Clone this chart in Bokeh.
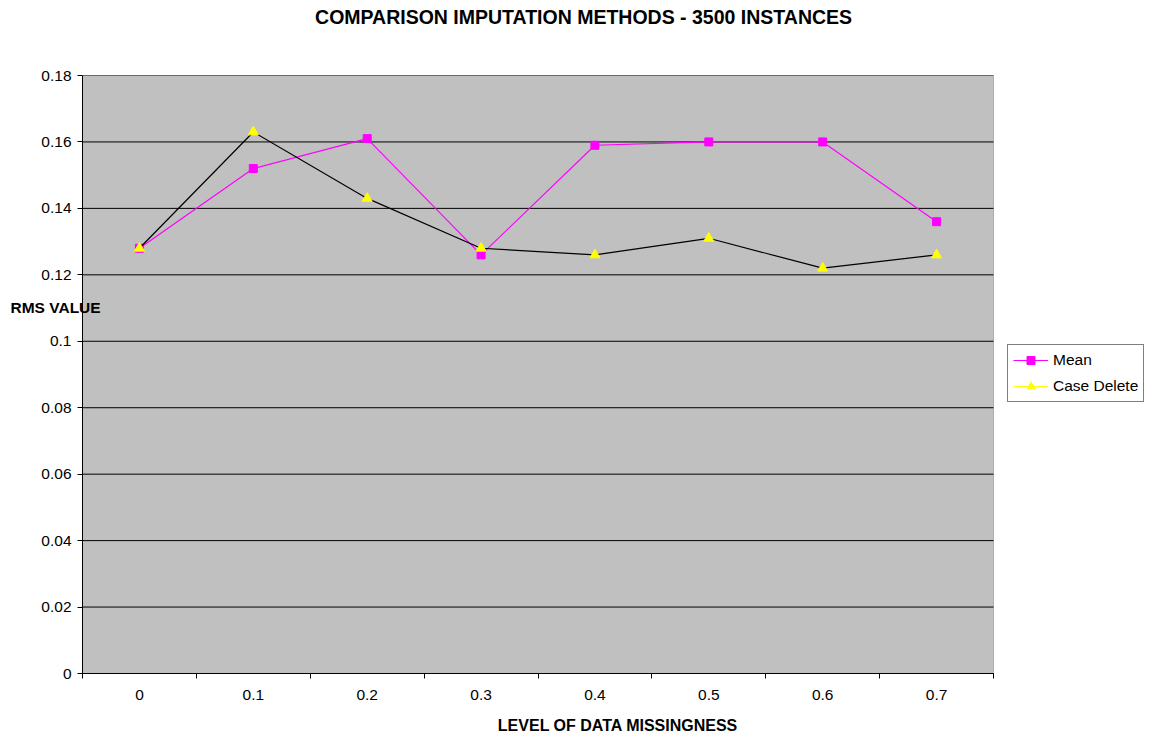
from bokeh.plotting import figure
from bokeh.models import (ColumnDataSource, FixedTicker, Label, Legend, LegendItem, Range1d,
                          BoxAnnotation, CDSView, IndexFilter)
from bokeh.embed import file_html
from bokeh.resources import INLINE

categories = ["0", "0.1", "0.2", "0.3", "0.4", "0.5", "0.6", "0.7"]
mean_vals = [0.128, 0.152, 0.161, 0.126, 0.159, 0.160, 0.160, 0.136]
case_delete_vals = [0.128, 0.163, 0.143, 0.128, 0.126, 0.131, 0.122, 0.126]
y_ticks = [0, 0.02, 0.04, 0.06, 0.08, 0.1, 0.12, 0.14, 0.16, 0.18]
y_tick_labels = ["0", "0.02", "0.04", "0.06", "0.08", "0.1", "0.12", "0.14", "0.16", "0.18"]

FONT = "Liberation Sans"
TICK_SIZE = "15.5px"
n = len(categories)
xs = list(range(n))
x_lo, x_hi = -0.5, n - 0.5
y_lo, y_hi = y_ticks[0], y_ticks[-1]
src = ColumnDataSource(dict(x=xs, mean=mean_vals, cd=case_delete_vals))
grid_src = ColumnDataSource(dict(x0=[x_lo] * len(y_ticks), x1=[x_hi] * len(y_ticks),
                                 y=y_ticks))

# the frame reaches the right edge of the canvas so the legend can sit inside it;
# the grey plot area covers only the category span
W, H, LEFT = 1153, 738, 82
PLOT_W = 911
x_end = x_lo + n * (W - LEFT) / PLOT_W

p = figure(width=W, height=H, output_backend="svg", toolbar_location=None,
           x_range=Range1d(x_lo, x_end), y_range=Range1d(y_lo, y_hi),
           min_border_left=LEFT, min_border_right=0, min_border_top=75, min_border_bottom=65)
p.border_fill_color = "white"
p.background_fill_color = "white"
p.outline_line_color = None
p.title.text = ""

p.add_layout(BoxAnnotation(left=x_lo, right=x_hi, bottom=y_lo, top=y_hi,
                           fill_color="#C0C0C0", fill_alpha=1,
                           line_color="#404040", line_width=1, level="underlay"))

# x axis: labels at category centres, tick marks between categories
xt = FixedTicker(ticks=xs, minor_ticks=[i - 0.5 for i in range(n + 1)])
p.xaxis.ticker = xt
p.xaxis.bounds = (x_lo, x_hi)
p.xaxis.major_label_overrides = {i: c for i, c in enumerate(categories)}
p.xaxis.major_tick_line_color = None
p.xaxis.minor_tick_line_color = "black"
p.xaxis.minor_tick_out = 5
p.xaxis.minor_tick_in = 0
p.xaxis.axis_line_color = "black"
p.xaxis.major_label_text_font = FONT
p.xaxis.major_label_text_font_size = TICK_SIZE
p.xaxis.major_label_text_color = "black"
p.xaxis.major_label_standoff = 10
p.xaxis.axis_label = "LEVEL OF DATA MISSINGNESS"
p.xaxis.axis_label_text_font = FONT
p.xaxis.axis_label_text_font_style = "bold"
p.xaxis.axis_label_text_font_size = "16px"
p.xaxis.axis_label_text_color = "black"
p.xaxis.axis_label_standoff = 14

p.yaxis.ticker = FixedTicker(ticks=y_ticks, minor_ticks=[])
p.yaxis.major_label_overrides = {t: l for t, l in zip(y_ticks, y_tick_labels)}
p.yaxis.major_tick_out = 5
p.yaxis.major_tick_in = 0
p.yaxis.major_tick_line_color = "black"
p.yaxis.axis_line_color = "black"
p.yaxis.major_label_text_font = FONT
p.yaxis.major_label_text_font_size = TICK_SIZE
p.yaxis.major_label_text_color = "black"
p.yaxis.major_label_standoff = 6

p.xgrid.grid_line_color = None
p.ygrid.grid_line_color = None
p.segment("x0", "y", "x1", "y", source=grid_src, line_color="black", line_width=1)

# series
mean_line = p.line("x", "mean", source=src, line_color="#FF00FF", line_width=1.2)
mean_pts = p.scatter("x", "mean", source=src, marker="square", size=8,
                     fill_color="#FF00FF", line_color="#FF00FF")
# yellow line shown only in the legend (a one-point view draws nothing in the plot)
cd_legend_line = p.line("x", "cd", source=src, view=CDSView(filter=IndexFilter([0])),
                        line_color="#FFFF00", line_width=1.2)
cd_line = p.line("x", "cd", source=src, line_color="black", line_width=1.2)
cd_pts = p.scatter("x", "cd", source=src, marker="triangle", size=10,
                   fill_color="#FFFF00", line_color="#FFFF00")

legend = Legend(items=[LegendItem(label="Mean", renderers=[mean_line, mean_pts]),
                       LegendItem(label="Case Delete", renderers=[cd_legend_line, cd_pts])],
                location=(925, 271), border_line_color="black", border_line_width=1,
                background_fill_color="white", background_fill_alpha=1,
                label_text_font=FONT, label_text_font_size="15.5px", label_text_color="black",
                glyph_width=35, glyph_height=20, label_height=20, spacing=6, padding=5,
                margin=0, label_standoff=5)
p.add_layout(legend, "center")

# title and horizontal y-axis label, kept in the top panel so they are not clipped
p.add_layout(Label(x=3.90, y=0.1975, text="COMPARISON IMPUTATION METHODS - 3500 INSTANCES",
                   text_font=FONT, text_font_style="bold", text_font_size="19.5px",
                   text_color="black", text_align="center", text_baseline="middle"), "above")
p.add_layout(Label(x=x_lo, y=0.1102, x_offset=-72, text="RMS VALUE",
                   text_font=FONT, text_font_style="bold", text_font_size="15.5px",
                   text_color="black", text_align="left", text_baseline="middle"), "above")

open("out.html", "w").write(file_html(p, INLINE))
